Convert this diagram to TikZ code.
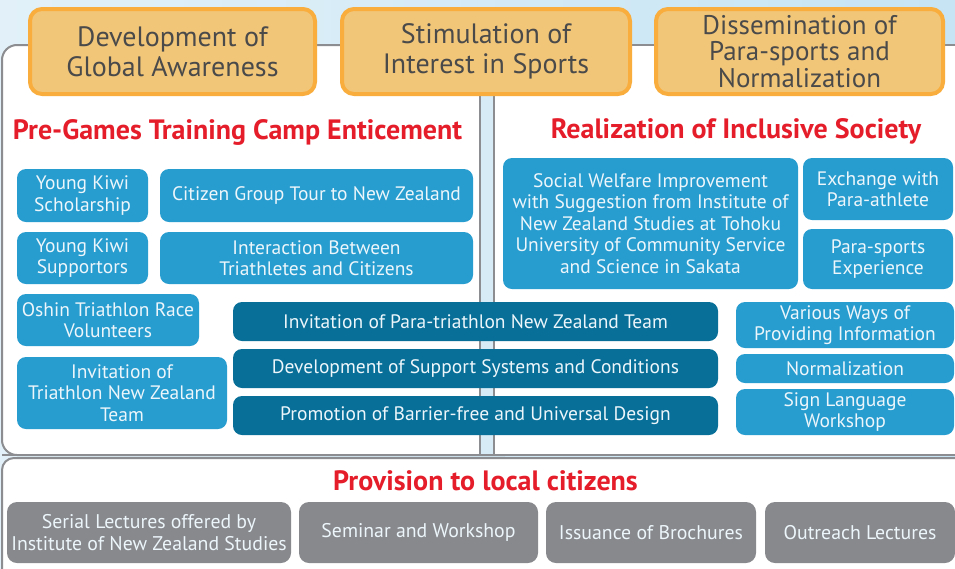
\documentclass[tikz,border=0pt]{standalone}
\usepackage{fontspec}
\setmainfont{PT Sans}
\definecolor{skyL}{HTML}{E2F1F9}
\definecolor{sky}{HTML}{C6E4F4}
\definecolor{strip}{HTML}{D6EBF6}
\definecolor{pline}{HTML}{8C8D90}
\definecolor{lblue}{HTML}{279CCF}
\definecolor{dblue}{HTML}{086F98}
\definecolor{gbox}{HTML}{88898D}
\definecolor{ofill}{HTML}{F2C679}
\definecolor{oline}{HTML}{F8AD3C}
\definecolor{tred}{HTML}{E51D2A}
\definecolor{dtext}{HTML}{4A4A4A}
\definecolor{wtext}{HTML}{ECF6FB}
\begin{document}
\begin{tikzpicture}[x=1pt,y=-1pt,
  obox/.style={fill=ofill, draw=oline, line width=4pt, rounded corners=12pt, inner sep=0pt, align=center, text=dtext, font=\fontsize{28}{30}\selectfont},
  lbox/.style={fill=lblue, rounded corners=9pt, inner sep=0pt, align=center, text=wtext, font=\fontsize{19.5}{21.5}\selectfont},
  dbox/.style={lbox, fill=dblue},
  gbx/.style={lbox, fill=gbox, rounded corners=10pt, font=\fontsize{19.8}{22}\selectfont},
  rtitle/.style={anchor=base, inner sep=0pt, text=tred, font=\bfseries\fontsize{28}{30}\selectfont},
  panel/.style={fill=white, draw=pline, line width=2pt}]
\useasboundingbox (0,0) rectangle (955,568);
\shade[left color=skyL, right color=sky] (0,0) rectangle (955,568);
% panels
\path[panel, rounded corners=15pt] (2,45) rectangle (520,455);
\path[panel] (494,45) rectangle (980,455);
\fill[strip] (480,45) rectangle (494,455);
\draw[pline, line width=2.5pt] (480,45) -- (480,455);
\draw[pline, line width=2.5pt] (494,45) -- (494,455);
\draw[pline, line width=2pt] (2,455) -- (955,455);
\path[panel, rounded corners=12pt] (2,458) rectangle (980,600);
% orange headers
\node[obox, minimum width=285pt, minimum height=85pt] (o1) at (172.5,51.5) {Development of\\Global Awareness};
\node[obox, minimum width=288pt, minimum height=85pt] (o2) at (486,51.5) {Stimulation of\\Interest in Sports};
\node[obox, minimum width=287pt, minimum height=85pt, font=\fontsize{27}{26.5}\selectfont] (o3) at (799.5,51.5) {Dissemination of\\Para-sports and\\Normalization};
% titles
\node[rtitle] (t1) at (237.5,139) {Pre-Games Training Camp Enticement};
\node[rtitle] (t2) at (736,138) {Realization of Inclusive Society};
\node[rtitle] (t3) at (485.5,490) {Provision to local citizens};
% left panel boxes
\node[lbox, minimum width=131pt, minimum height=53pt] (yks) at (82.5,195.5) {Young Kiwi\\Scholarship};
\node[lbox, minimum width=313pt, minimum height=53pt] (cgt) at (316.5,195.5) {Citizen Group Tour to New Zealand};
\node[lbox, minimum width=131pt, minimum height=52pt] (yksup) at (82.5,258) {Young Kiwi\\Supportors};
\node[lbox, minimum width=313pt, minimum height=52pt] (ibt) at (316.5,258) {Interaction Between\\Triathletes and Citizens};
\node[lbox, minimum width=182pt, minimum height=52pt] (osh) at (108,320) {Oshin Triathlon Race\\Volunteers};
\node[lbox, minimum width=210pt, minimum height=72pt] (itnz) at (122,393) {Invitation of\\Triathlon New Zealand\\Team};
% right panel boxes
\node[lbox, minimum width=295pt, minimum height=131pt] (sw) at (650.5,223.5) {Social Welfare Improvement\\with Suggestion from Institute of\\New Zealand Studies at Tohoku\\University of Community Service\\and Science in Sakata};
\node[lbox, minimum width=150pt, minimum height=62pt] (ex) at (878,189) {Exchange with\\Para-athlete};
\node[lbox, minimum width=150pt, minimum height=60pt] (pse) at (878,259) {Para-sports\\Experience};
\node[lbox, minimum width=218pt, minimum height=46pt] (vw) at (845,325) {Various Ways of\\Providing Information};
\node[lbox, minimum width=218pt, minimum height=29pt] (nm) at (845,368.5) {Normalization};
\node[lbox, minimum width=218pt, minimum height=46pt] (sl) at (845,412) {Sign Language\\Workshop};
% dark boxes
\node[dbox, minimum width=485pt, minimum height=39pt] (d1) at (475.5,321.5) {Invitation of Para-triathlon New Zealand Team};
\node[dbox, minimum width=485pt, minimum height=39pt] (d2) at (475.5,368.5) {Development of Support Systems and Conditions};
\node[dbox, minimum width=485pt, minimum height=39pt] (d3) at (475.5,415.5) {Promotion of Barrier-free and Universal Design};
% bottom gray boxes
\node[gbx, minimum width=284pt, minimum height=61pt] (g1) at (149,532.5) {Serial Lectures offered by\\Institute of New Zealand Studies};
\node[gbx, minimum width=239pt, minimum height=61pt] (g2) at (418.5,532.5) {Seminar and Workshop};
\node[gbx, minimum width=210pt, minimum height=61pt] (g3) at (651,532.5) {Issuance of Brochures};
\node[gbx, minimum width=190pt, minimum height=61pt] (g4) at (860,532.5) {Outreach Lectures};
\end{tikzpicture}
\end{document}
